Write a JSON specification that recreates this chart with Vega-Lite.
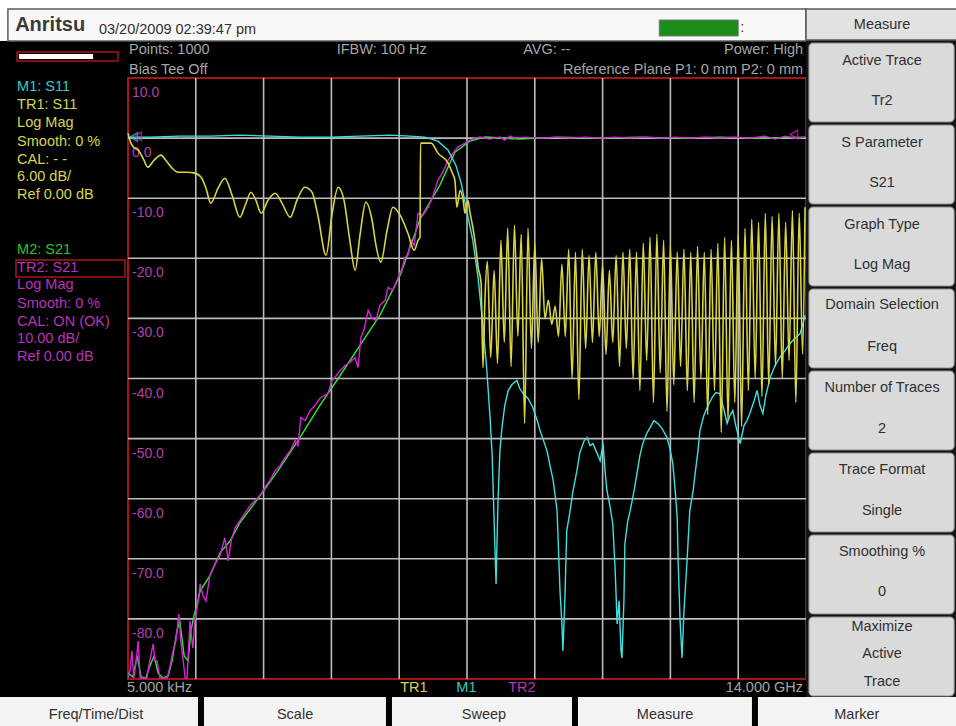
{
"$schema":"https://vega.github.io/schema/vega-lite/v6.json",
"width":678,"height":601,
"autosize":{"type":"none"},
"padding":{"left":128,"top":78,"right":150,"bottom":47},
"background":"#000000",
"config":{"font":"Liberation Sans","view":{"stroke":"#a81414","strokeWidth":2,"fill":"#000000"}},
"datasets":{
"gv":[{"f":1.4},{"f":2.8},{"f":4.2},{"f":5.6},{"f":7.0},{"f":8.4},{"f":9.8},{"f":11.2},{"f":12.6}],
"gh":[{"db":0},{"db":-10},{"db":-20},{"db":-30},{"db":-40},{"db":-50},{"db":-60},{"db":-70},{"db":-80}],
"yl":[{"db":10,"s":"10.0"},{"db":0,"s":"0.0"},{"db":-10,"s":"-10.0"},{"db":-20,"s":"-20.0"},{"db":-30,"s":"-30.0"},{"db":-40,"s":"-40.0"},{"db":-50,"s":"-50.0"},{"db":-60,"s":"-60.0"},{"db":-70,"s":"-70.0"},{"db":-80,"s":"-80.0"}],
"m2":[{"f":0,"db":-89},{"f":0.1,"db":-89.67},{"f":0.19,"db":-86.17},{"f":0.27,"db":-89.67},{"f":0.37,"db":-89.83},{"f":0.45,"db":-87.83},{"f":0.54,"db":-86.17},{"f":0.62,"db":-89},{"f":0.72,"db":-89.83},{"f":0.83,"db":-89.5},{"f":0.91,"db":-87},{"f":1.01,"db":-82},{"f":1.07,"db":-80.33},{"f":1.16,"db":-86.17},{"f":1.24,"db":-87},{"f":1.3,"db":-82},{"f":1.36,"db":-79.5},{"f":1.42,"db":-77.83},{"f":1.49,"db":-75.33},{"f":1.69,"db":-72.83},{"f":1.9,"db":-69},{"f":2.11,"db":-67},{"f":2.31,"db":-64},{"f":2.73,"db":-59.5},{"f":3.14,"db":-54.83},{"f":3.55,"db":-49.83},{"f":3.96,"db":-44.5},{"f":4.38,"db":-39.5},{"f":4.79,"db":-34.5},{"f":5.2,"db":-29.5},{"f":5.62,"db":-22.83},{"f":6.03,"db":-13.5},{"f":6.44,"db":-7.83},{"f":6.75,"db":-2.33},{"f":7.06,"db":-0.5},{"f":7.37,"db":0.17},{"f":8.09,"db":-0.17},{"f":8.92,"db":0.17},{"f":9.75,"db":0},{"f":10.57,"db":0.17},{"f":11.4,"db":0},{"f":12.22,"db":0.17},{"f":13.05,"db":0},{"f":13.98,"db":0.17}],
"tr2":[{"f":0,"db":-89.83},{"f":0.04,"db":-88.67},{"f":0.08,"db":-85.33},{"f":0.12,"db":-89.83},{"f":0.17,"db":-87},{"f":0.21,"db":-83.67},{"f":0.25,"db":-89.83},{"f":0.33,"db":-89.83},{"f":0.39,"db":-89.83},{"f":0.45,"db":-87},{"f":0.52,"db":-84.17},{"f":0.56,"db":-87},{"f":0.6,"db":-87},{"f":0.66,"db":-89.83},{"f":0.74,"db":-89.83},{"f":0.81,"db":-89.83},{"f":0.87,"db":-87.83},{"f":0.93,"db":-85.33},{"f":0.99,"db":-83.67},{"f":1.05,"db":-79.17},{"f":1.09,"db":-83.67},{"f":1.14,"db":-87},{"f":1.18,"db":-89.83},{"f":1.22,"db":-89.83},{"f":1.28,"db":-80.33},{"f":1.32,"db":-83.67},{"f":1.34,"db":-84.83},{"f":1.38,"db":-80.33},{"f":1.45,"db":-77},{"f":1.49,"db":-74.17},{"f":1.55,"db":-76.17},{"f":1.61,"db":-77},{"f":1.69,"db":-72.83},{"f":1.8,"db":-70.83},{"f":1.9,"db":-69.5},{"f":2,"db":-66.5},{"f":2.07,"db":-70.33},{"f":2.13,"db":-67},{"f":2.21,"db":-64.83},{"f":2.31,"db":-63.67},{"f":2.42,"db":-62.33},{"f":2.52,"db":-61.17},{"f":2.62,"db":-60.33},{"f":2.75,"db":-59.17},{"f":2.85,"db":-57.83},{"f":2.93,"db":-57},{"f":3.04,"db":-55.33},{"f":3.14,"db":-54.5},{"f":3.24,"db":-53.17},{"f":3.35,"db":-52},{"f":3.45,"db":-50.33},{"f":3.51,"db":-51.17},{"f":3.57,"db":-46.5},{"f":3.66,"db":-47},{"f":3.76,"db":-45.33},{"f":3.86,"db":-44.5},{"f":3.96,"db":-43.33},{"f":4.05,"db":-42.83},{"f":4.13,"db":-42.5},{"f":4.21,"db":-40.33},{"f":4.27,"db":-39.83},{"f":4.38,"db":-38.67},{"f":4.48,"db":-37.83},{"f":4.58,"db":-37.33},{"f":4.69,"db":-36.5},{"f":4.75,"db":-38.17},{"f":4.81,"db":-33.17},{"f":4.87,"db":-32},{"f":4.96,"db":-28.67},{"f":5.04,"db":-30},{"f":5.12,"db":-30.33},{"f":5.2,"db":-27.83},{"f":5.31,"db":-27},{"f":5.37,"db":-24.83},{"f":5.47,"db":-25.33},{"f":5.58,"db":-23.17},{"f":5.66,"db":-21.67},{"f":5.72,"db":-19.83},{"f":5.78,"db":-19.5},{"f":5.84,"db":-17},{"f":5.91,"db":-17.83},{"f":5.99,"db":-12.5},{"f":6.09,"db":-12.83},{"f":6.2,"db":-11.5},{"f":6.3,"db":-9.5},{"f":6.4,"db":-7},{"f":6.5,"db":-5.67},{"f":6.61,"db":-3.67},{"f":6.71,"db":-2.5},{"f":6.81,"db":-1.5},{"f":6.96,"db":-0.83},{"f":7.06,"db":-0.33},{"f":7.17,"db":0},{"f":7.27,"db":0.17},{"f":7.47,"db":-0.17},{"f":7.68,"db":0.17},{"f":7.78,"db":-0.33},{"f":7.89,"db":0.33},{"f":7.99,"db":0},{"f":8.2,"db":0.17},{"f":8.51,"db":0},{"f":8.82,"db":0.17},{"f":9.13,"db":0},{"f":9.44,"db":0.17},{"f":9.75,"db":0},{"f":10.06,"db":0.17},{"f":10.37,"db":0},{"f":10.68,"db":0.17},{"f":10.99,"db":0},{"f":11.3,"db":0.17},{"f":11.6,"db":0},{"f":11.91,"db":0.17},{"f":12.22,"db":0},{"f":12.53,"db":0.17},{"f":12.84,"db":0},{"f":13.15,"db":0.33},{"f":13.36,"db":-0.17},{"f":13.57,"db":0.33},{"f":13.77,"db":0},{"f":13.98,"db":0.17}],
"m1":[{"f":0,"db":0.17},{"f":0.45,"db":0.17},{"f":1.07,"db":0.33},{"f":1.69,"db":0.33},{"f":2.31,"db":0.5},{"f":2.93,"db":0.33},{"f":3.55,"db":0.17},{"f":4.17,"db":0.17},{"f":4.79,"db":0.33},{"f":5.41,"db":0.5},{"f":5.82,"db":0.33},{"f":6.13,"db":0.17},{"f":6.4,"db":-0.5},{"f":6.61,"db":-2},{"f":6.77,"db":-4.5},{"f":6.88,"db":-7.5},{"f":7,"db":-12.33},{"f":7.12,"db":-17},{"f":7.23,"db":-23.33},{"f":7.33,"db":-31.17},{"f":7.41,"db":-38.67},{"f":7.48,"db":-47},{"f":7.52,"db":-52.83},{"f":7.56,"db":-63.67},{"f":7.6,"db":-74.17},{"f":7.64,"db":-60.33},{"f":7.68,"db":-52},{"f":7.72,"db":-48.33},{"f":7.78,"db":-44.5},{"f":7.85,"db":-42},{"f":7.93,"db":-41},{"f":8.03,"db":-40.33},{"f":8.09,"db":-41.67},{"f":8.16,"db":-42.5},{"f":8.26,"db":-43.33},{"f":8.36,"db":-44.83},{"f":8.45,"db":-47},{"f":8.51,"db":-48.67},{"f":8.65,"db":-52},{"f":8.78,"db":-57},{"f":8.86,"db":-62},{"f":8.92,"db":-75.33},{"f":8.96,"db":-80.83},{"f":8.98,"db":-85.33},{"f":9.02,"db":-77},{"f":9.06,"db":-65.33},{"f":9.13,"db":-62},{"f":9.19,"db":-58.67},{"f":9.27,"db":-55.33},{"f":9.33,"db":-52.33},{"f":9.42,"db":-50.33},{"f":9.48,"db":-49.83},{"f":9.54,"db":-51.17},{"f":9.6,"db":-50.83},{"f":9.68,"db":-52.33},{"f":9.75,"db":-53.67},{"f":9.81,"db":-50.83},{"f":9.85,"db":-55.33},{"f":9.89,"db":-58.67},{"f":9.95,"db":-61.17},{"f":10.01,"db":-64.17},{"f":10.06,"db":-72},{"f":10.1,"db":-80.83},{"f":10.14,"db":-77},{"f":10.18,"db":-85.33},{"f":10.2,"db":-86.5},{"f":10.24,"db":-77},{"f":10.26,"db":-67.5},{"f":10.32,"db":-63.67},{"f":10.37,"db":-62},{"f":10.45,"db":-58.67},{"f":10.51,"db":-55.83},{"f":10.57,"db":-52.83},{"f":10.63,"db":-50.83},{"f":10.72,"db":-49},{"f":10.78,"db":-48.17},{"f":10.86,"db":-47},{"f":10.94,"db":-47.5},{"f":11.03,"db":-48.33},{"f":11.13,"db":-49.83},{"f":11.19,"db":-51.67},{"f":11.25,"db":-54.17},{"f":11.3,"db":-58.67},{"f":11.34,"db":-63.17},{"f":11.36,"db":-70.33},{"f":11.4,"db":-80.33},{"f":11.44,"db":-86.5},{"f":11.48,"db":-78.67},{"f":11.54,"db":-70.83},{"f":11.6,"db":-62},{"f":11.67,"db":-58.67},{"f":11.71,"db":-55.83},{"f":11.77,"db":-52},{"f":11.81,"db":-48.67},{"f":11.89,"db":-46.17},{"f":11.96,"db":-44.83},{"f":12.06,"db":-43.17},{"f":12.14,"db":-42.33},{"f":12.22,"db":-42.5},{"f":12.31,"db":-45.33},{"f":12.37,"db":-47.5},{"f":12.43,"db":-46.17},{"f":12.49,"db":-45.33},{"f":12.55,"db":-47.83},{"f":12.64,"db":-50.83},{"f":12.72,"db":-47.83},{"f":12.78,"db":-47},{"f":12.84,"db":-45.83},{"f":12.93,"db":-43.67},{"f":12.99,"db":-42},{"f":13.05,"db":-44.5},{"f":13.11,"db":-45.83},{"f":13.17,"db":-42.83},{"f":13.26,"db":-39.83},{"f":13.36,"db":-37.83},{"f":13.46,"db":-36.5},{"f":13.57,"db":-35.33},{"f":13.67,"db":-34.17},{"f":13.77,"db":-33.33},{"f":13.88,"db":-32.5},{"f":13.98,"db":-29.5}],
"tr1":[{"f":0,"db":0.83},{"f":0.06,"db":-0.83},{"f":0.14,"db":-1.67},{"f":0.21,"db":-2},{"f":0.31,"db":-3.33},{"f":0.41,"db":-4.83},{"f":0.54,"db":-3.67},{"f":0.68,"db":-2.83},{"f":0.78,"db":-3.67},{"f":0.91,"db":-5},{"f":1.03,"db":-5.67},{"f":1.22,"db":-5.67},{"f":1.38,"db":-5.83},{"f":1.51,"db":-6.5},{"f":1.61,"db":-8.33},{"f":1.71,"db":-10.83},{"f":1.86,"db":-8.33},{"f":2,"db":-6.67},{"f":2.15,"db":-9.5},{"f":2.31,"db":-13.17},{"f":2.42,"db":-11.17},{"f":2.54,"db":-9},{"f":2.64,"db":-10.33},{"f":2.75,"db":-12.5},{"f":2.89,"db":-10.33},{"f":3.04,"db":-9.17},{"f":3.18,"db":-10.83},{"f":3.35,"db":-13.17},{"f":3.49,"db":-10.33},{"f":3.65,"db":-8.17},{"f":3.8,"db":-9},{"f":3.92,"db":-12.83},{"f":4.09,"db":-19.5},{"f":4.21,"db":-12.83},{"f":4.34,"db":-8.17},{"f":4.46,"db":-10.33},{"f":4.58,"db":-17},{"f":4.69,"db":-22},{"f":4.79,"db":-16.17},{"f":4.91,"db":-10.67},{"f":5.04,"db":-13.67},{"f":5.12,"db":-17.83},{"f":5.22,"db":-20.67},{"f":5.35,"db":-15.33},{"f":5.47,"db":-11.5},{"f":5.62,"db":-12.83},{"f":5.78,"db":-15.83},{"f":5.91,"db":-18.67},{"f":5.99,"db":-17},{"f":6.03,"db":-16.5},{"f":6.04,"db":-0.83},{"f":6.26,"db":-0.83},{"f":6.4,"db":-2.5},{"f":6.61,"db":-4.17},{"f":6.69,"db":-5.67},{"f":6.75,"db":-7},{"f":6.79,"db":-11.5},{"f":6.86,"db":-8.67},{"f":6.92,"db":-10.33},{"f":6.96,"db":-12.5},{"f":7.02,"db":-10.33},{"f":7.06,"db":-12.33},{"f":7.12,"db":-14.83},{"f":7.19,"db":-18.67},{"f":7.23,"db":-21.5},{"f":7.29,"db":-24},{"f":7.33,"db":-38.17},{"f":7.37,"db":-27},{"f":7.42,"db":-20.5},{"f":7.49,"db":-36.5},{"f":7.56,"db":-22},{"f":7.63,"db":-37.5},{"f":7.7,"db":-17},{"f":7.77,"db":-34},{"f":7.84,"db":-15},{"f":7.91,"db":-38},{"f":7.98,"db":-14.5},{"f":8.05,"db":-33},{"f":8.12,"db":-16},{"f":8.19,"db":-47.5},{"f":8.26,"db":-15},{"f":8.33,"db":-35},{"f":8.4,"db":-17.5},{"f":8.47,"db":-34},{"f":8.54,"db":-20},{"f":8.61,"db":-30},{"f":8.68,"db":-27},{"f":8.75,"db":-31},{"f":8.82,"db":-28},{"f":8.89,"db":-33},{"f":8.96,"db":-21},{"f":9.03,"db":-33},{"f":9.1,"db":-18.5},{"f":9.17,"db":-40},{"f":9.24,"db":-19},{"f":9.31,"db":-43.5},{"f":9.38,"db":-18.5},{"f":9.45,"db":-35},{"f":9.52,"db":-19.5},{"f":9.59,"db":-34},{"f":9.66,"db":-19},{"f":9.73,"db":-33},{"f":9.8,"db":-21},{"f":9.87,"db":-36},{"f":9.94,"db":-22},{"f":10.01,"db":-34},{"f":10.08,"db":-19.5},{"f":10.15,"db":-38},{"f":10.22,"db":-19},{"f":10.29,"db":-35},{"f":10.36,"db":-18.5},{"f":10.43,"db":-40},{"f":10.5,"db":-19},{"f":10.57,"db":-42},{"f":10.64,"db":-17.5},{"f":10.71,"db":-37},{"f":10.78,"db":-16.5},{"f":10.85,"db":-44},{"f":10.92,"db":-16},{"f":10.99,"db":-39},{"f":11.06,"db":-17},{"f":11.13,"db":-45.5},{"f":11.2,"db":-18},{"f":11.27,"db":-41},{"f":11.34,"db":-19},{"f":11.41,"db":-38},{"f":11.48,"db":-18.5},{"f":11.55,"db":-42},{"f":11.62,"db":-19},{"f":11.69,"db":-44},{"f":11.76,"db":-18},{"f":11.83,"db":-40},{"f":11.9,"db":-19},{"f":11.97,"db":-46},{"f":12.04,"db":-18.5},{"f":12.11,"db":-42},{"f":12.18,"db":-17.5},{"f":12.25,"db":-49},{"f":12.32,"db":-16.5},{"f":12.39,"db":-47},{"f":12.46,"db":-17},{"f":12.53,"db":-44},{"f":12.6,"db":-16},{"f":12.67,"db":-48},{"f":12.74,"db":-15},{"f":12.81,"db":-42},{"f":12.88,"db":-13.5},{"f":12.95,"db":-40},{"f":13.02,"db":-14},{"f":13.09,"db":-43},{"f":13.16,"db":-12.5},{"f":13.23,"db":-41},{"f":13.3,"db":-13},{"f":13.37,"db":-38},{"f":13.44,"db":-12.5},{"f":13.51,"db":-40},{"f":13.58,"db":-14},{"f":13.65,"db":-37},{"f":13.72,"db":-12},{"f":13.79,"db":-44},{"f":13.86,"db":-12.5},{"f":13.93,"db":-36},{"f":13.98,"db":-11.5}],
"mk":[{"f":0.12,"db":0.2,"g":"M1"},{"f":0.2,"db":0.3,"g":"TR2"},{"f":13.75,"db":0.6,"g":"TR2"}],
"wbg":[{"x":-2.7,"x2":17.2,"y":23.5,"y2":16.16}],
"hdr":[{"x":-2.48,"x2":14.0,"y":21.48,"y2":16.16}],
"rp":[{"x":14.0,"x2":17.2,"y":16.32,"y2":-93.0}],
"mh":[{"x":14.0,"x2":17.2,"y":21.48,"y2":16.32}],
"btn":[{"x":14.06,"x2":17.06,"y":15.82,"y2":2.68},{"x":14.06,"x2":17.06,"y":2.18,"y2":-10.97},{"x":14.06,"x2":17.06,"y":-11.46,"y2":-24.61},{"x":14.06,"x2":17.06,"y":-25.11,"y2":-38.25},{"x":14.06,"x2":17.06,"y":-38.75,"y2":-51.9},{"x":14.06,"x2":17.06,"y":-52.4,"y2":-65.54},{"x":14.06,"x2":17.06,"y":-66.04,"y2":-79.18},{"x":14.06,"x2":17.06,"y":-79.68,"y2":-92.83}],
"bb":[{"x":-2.7,"x2":1.445,"y":-93.0,"y2":-98.2},{"x":1.569,"x2":5.327,"y":-93.0,"y2":-98.2},{"x":5.451,"x2":9.168,"y":-93.0,"y2":-98.2},{"x":9.292,"x2":12.884,"y":-93.0,"y2":-98.2},{"x":13.008,"x2":17.2,"y":-93.0,"y2":-98.2}],
"batt":[{"x":10.97,"x2":12.6,"y":19.65,"y2":16.99}],
"ind":[{"x":-2.292,"x2":-0.206,"y":14.33,"y2":12.83}],
"indw":[{"x":-2.25,"x2":-0.72,"y":13.99,"y2":13.16}],
"box":[{"x":-2.313,"x2":-0.062,"y":-20.28,"y2":-23.11}],
"logo":[{"x":-2.33,"y":18.8,"s":"Anritsu"}],
"tl":[{"x":-0.6,"y":18.0,"s":"03/20/2009 02:39:47 pm","g":"dark"},{"x":12.64,"y":18.3,"s":":","g":"dark"},{"x":0.02,"y":14.66,"s":"Points: 1000","g":"info"},{"x":0.02,"y":11.33,"s":"Bias Tee Off","g":"info"},{"x":4.31,"y":14.66,"s":"IFBW: 100 Hz","g":"info"},{"x":8.16,"y":14.66,"s":"AVG: --","g":"info"},{"x":-0.02,"y":-91.5,"s":"5.000 kHz","g":"info"},{"x":-2.29,"y":8.5,"s":"M1: S11","g":"M1"},{"x":-2.29,"y":5.51,"s":"TR1: S11","g":"TR1"},{"x":-2.29,"y":2.51,"s":"Log Mag","g":"TR1"},{"x":-2.29,"y":-0.65,"s":"Smooth: 0 %","g":"TR1"},{"x":-2.29,"y":-3.64,"s":"CAL: - -","g":"TR1"},{"x":-2.29,"y":-6.47,"s":"6.00 dB/","g":"TR1"},{"x":-2.29,"y":-9.47,"s":"Ref 0.00 dB","g":"TR1"},{"x":-2.29,"y":-18.62,"s":"M2: S21","g":"M2"},{"x":-2.29,"y":-21.61,"s":"TR2: S21","g":"TR2"},{"x":-2.29,"y":-24.44,"s":"Log Mag","g":"TR2"},{"x":-2.29,"y":-27.6,"s":"Smooth: 0 %","g":"TR2"},{"x":-2.29,"y":-30.6,"s":"CAL: ON (OK)","g":"TR2"},{"x":-2.29,"y":-33.43,"s":"10.00 dB/","g":"TR2"},{"x":-2.29,"y":-36.42,"s":"Ref 0.00 dB","g":"TR2"},{"x":5.62,"y":-91.5,"s":"TR1","g":"TR1"},{"x":6.78,"y":-91.5,"s":"M1","g":"M1"},{"x":7.85,"y":-91.5,"s":"TR2","g":"TR2"}],
"tr":[{"x":13.94,"y":14.66,"s":"Power: High"},{"x":13.94,"y":11.33,"s":"Reference Plane P1: 0 mm P2: 0 mm"},{"x":13.94,"y":-91.5,"s":"14.000 GHz"}],
"tc":[{"x":15.57,"y":18.8,"s":"Measure"},{"x":15.57,"y":12.8,"s":"Active Trace"},{"x":15.57,"y":6.1,"s":"Tr2"},{"x":15.57,"y":-0.75,"s":"S Parameter"},{"x":15.57,"y":-7.47,"s":"S21"},{"x":15.57,"y":-14.4,"s":"Graph Type"},{"x":15.57,"y":-21.1,"s":"Log Mag"},{"x":15.57,"y":-27.85,"s":"Domain Selection"},{"x":15.57,"y":-34.76,"s":"Freq"},{"x":15.57,"y":-41.5,"s":"Number of Traces"},{"x":15.57,"y":-48.4,"s":"2"},{"x":15.57,"y":-55.2,"s":"Trace Format"},{"x":15.57,"y":-62.1,"s":"Single"},{"x":15.57,"y":-68.85,"s":"Smoothing %"},{"x":15.57,"y":-75.5,"s":"0"},{"x":15.57,"y":-81.35,"s":"Maximize"},{"x":15.57,"y":-85.8,"s":"Active"},{"x":15.57,"y":-90.5,"s":"Trace"},{"x":-0.66,"y":-96.0,"s":"Freq/Time/Dist"},{"x":3.45,"y":-96.0,"s":"Scale"},{"x":7.35,"y":-96.0,"s":"Sweep"},{"x":11.09,"y":-96.0,"s":"Measure"},{"x":15.05,"y":-96.0,"s":"Marker"}]
},
"layer":[
{"data":{"name":"wbg"},"mark":{"type":"rect","fill":"#ffffff"},"encoding":{"x":{"field":"x","type":"quantitative","scale":{"domain":[0,14],"nice":false,"zero":false},"axis":null},"x2":{"field":"x2"},"y":{"field":"y","type":"quantitative","scale":{"domain":[-90,10],"nice":false,"zero":false},"axis":null},"y2":{"field":"y2"}}},
{"data":{"name":"hdr"},"mark":{"type":"rect","fill":"#f8f8f8","stroke":"#5a5a5a","strokeWidth":1.5},"encoding":{"x":{"field":"x","type":"quantitative","scale":{"domain":[0,14],"nice":false,"zero":false},"axis":null},"x2":{"field":"x2"},"y":{"field":"y","type":"quantitative","scale":{"domain":[-90,10],"nice":false,"zero":false},"axis":null},"y2":{"field":"y2"}}},
{"data":{"name":"rp"},"mark":{"type":"rect","fill":"#141414"},"encoding":{"x":{"field":"x","type":"quantitative","scale":{"domain":[0,14],"nice":false,"zero":false},"axis":null},"x2":{"field":"x2"},"y":{"field":"y","type":"quantitative","scale":{"domain":[-90,10],"nice":false,"zero":false},"axis":null},"y2":{"field":"y2"}}},
{"data":{"name":"mh"},"mark":{"type":"rect","fill":"#e2e2e2","stroke":"#5a5a5a","strokeWidth":1.5},"encoding":{"x":{"field":"x","type":"quantitative","scale":{"domain":[0,14],"nice":false,"zero":false},"axis":null},"x2":{"field":"x2"},"y":{"field":"y","type":"quantitative","scale":{"domain":[-90,10],"nice":false,"zero":false},"axis":null},"y2":{"field":"y2"}}},
{"data":{"name":"btn"},"mark":{"type":"rect","fill":"#dadada","stroke":"#8a8a8a","strokeWidth":1,"cornerRadius":4},"encoding":{"x":{"field":"x","type":"quantitative","scale":{"domain":[0,14],"nice":false,"zero":false},"axis":null},"x2":{"field":"x2"},"y":{"field":"y","type":"quantitative","scale":{"domain":[-90,10],"nice":false,"zero":false},"axis":null},"y2":{"field":"y2"}}},
{"data":{"name":"bb"},"mark":{"type":"rect","fill":"#f3f3f3"},"encoding":{"x":{"field":"x","type":"quantitative","scale":{"domain":[0,14],"nice":false,"zero":false},"axis":null},"x2":{"field":"x2"},"y":{"field":"y","type":"quantitative","scale":{"domain":[-90,10],"nice":false,"zero":false},"axis":null},"y2":{"field":"y2"}}},
{"data":{"name":"batt"},"mark":{"type":"rect","fill":"#1c8c1c","stroke":"#777777","strokeWidth":1},"encoding":{"x":{"field":"x","type":"quantitative","scale":{"domain":[0,14],"nice":false,"zero":false},"axis":null},"x2":{"field":"x2"},"y":{"field":"y","type":"quantitative","scale":{"domain":[-90,10],"nice":false,"zero":false},"axis":null},"y2":{"field":"y2"}}},
{"data":{"name":"ind"},"mark":{"type":"rect","fill":"#000000","stroke":"#b01414","strokeWidth":1.5},"encoding":{"x":{"field":"x","type":"quantitative","scale":{"domain":[0,14],"nice":false,"zero":false},"axis":null},"x2":{"field":"x2"},"y":{"field":"y","type":"quantitative","scale":{"domain":[-90,10],"nice":false,"zero":false},"axis":null},"y2":{"field":"y2"}}},
{"data":{"name":"indw"},"mark":{"type":"rect","fill":"#ffffff"},"encoding":{"x":{"field":"x","type":"quantitative","scale":{"domain":[0,14],"nice":false,"zero":false},"axis":null},"x2":{"field":"x2"},"y":{"field":"y","type":"quantitative","scale":{"domain":[-90,10],"nice":false,"zero":false},"axis":null},"y2":{"field":"y2"}}},
{"data":{"name":"box"},"mark":{"type":"rect","fill":null,"stroke":"#b01414","strokeWidth":1.5},"encoding":{"x":{"field":"x","type":"quantitative","scale":{"domain":[0,14],"nice":false,"zero":false},"axis":null},"x2":{"field":"x2"},"y":{"field":"y","type":"quantitative","scale":{"domain":[-90,10],"nice":false,"zero":false},"axis":null},"y2":{"field":"y2"}}},
{"data":{"name":"gv"},"mark":{"type":"rule","color":"#bcbcbc","strokeWidth":1.6},"encoding":{"x":{"field":"f","type":"quantitative","scale":{"domain":[0,14],"nice":false,"zero":false},"axis":null}}},
{"data":{"name":"gh"},"mark":{"type":"rule","color":"#bcbcbc","strokeWidth":1.6},"encoding":{"y":{"field":"db","type":"quantitative","scale":{"domain":[-90,10],"nice":false,"zero":false},"axis":null}}},
{"data":{"name":"yl"},"mark":{"type":"text","align":"left","baseline":"middle","fontSize":14,"dx":4,"dy":15,"color":"#b040b0"},"encoding":{"x":{"datum":0,"type":"quantitative","scale":{"domain":[0,14],"nice":false,"zero":false},"axis":null},"y":{"field":"db","type":"quantitative","scale":{"domain":[-90,10],"nice":false,"zero":false},"axis":null},"text":{"field":"s"}}},
{"data":{"name":"m2"},"mark":{"type":"line","color":"#30e830","strokeWidth":1.4},"encoding":{"x":{"field":"f","type":"quantitative","scale":{"domain":[0,14],"nice":false,"zero":false},"axis":null},"y":{"field":"db","type":"quantitative","scale":{"domain":[-90,10],"nice":false,"zero":false},"axis":null}}},
{"data":{"name":"tr2"},"mark":{"type":"line","color":"#d424d4","strokeWidth":1.4},"encoding":{"x":{"field":"f","type":"quantitative","scale":{"domain":[0,14],"nice":false,"zero":false},"axis":null},"y":{"field":"db","type":"quantitative","scale":{"domain":[-90,10],"nice":false,"zero":false},"axis":null}}},
{"data":{"name":"m1"},"mark":{"type":"line","color":"#3ee0e0","strokeWidth":1.4},"encoding":{"x":{"field":"f","type":"quantitative","scale":{"domain":[0,14],"nice":false,"zero":false},"axis":null},"y":{"field":"db","type":"quantitative","scale":{"domain":[-90,10],"nice":false,"zero":false},"axis":null}}},
{"data":{"name":"tr1"},"mark":{"type":"line","color":"#d8d444","strokeWidth":1.6,"interpolate":"monotone"},"encoding":{"x":{"field":"f","type":"quantitative","scale":{"domain":[0,14],"nice":false,"zero":false},"axis":null},"y":{"field":"db","type":"quantitative","scale":{"domain":[-90,10],"nice":false,"zero":false},"axis":null}}},
{"data":{"name":"mk"},"mark":{"type":"point","shape":"triangle-left","size":70,"filled":false,"strokeWidth":1.5},"encoding":{"x":{"field":"f","type":"quantitative","scale":{"domain":[0,14],"nice":false,"zero":false},"axis":null},"y":{"field":"db","type":"quantitative","scale":{"domain":[-90,10],"nice":false,"zero":false},"axis":null},"color":{"field":"g","type":"nominal","scale":{"domain":["M1","TR1","M2","TR2","info","dark"],"range":["#3cc8c8","#d6d64a","#30c030","#b834b8","#a4a4a4","#303030"]},"legend":null}}},
{"data":{"name":"logo"},"mark":{"type":"text","align":"left","baseline":"middle","fontSize":20,"fontWeight":"bold","color":"#3a3a3a"},"encoding":{"x":{"field":"x","type":"quantitative","scale":{"domain":[0,14],"nice":false,"zero":false},"axis":null},"y":{"field":"y","type":"quantitative","scale":{"domain":[-90,10],"nice":false,"zero":false},"axis":null},"text":{"field":"s"}}},
{"data":{"name":"tl"},"mark":{"type":"text","align":"left","baseline":"middle","fontSize":14.5},"encoding":{"x":{"field":"x","type":"quantitative","scale":{"domain":[0,14],"nice":false,"zero":false},"axis":null},"y":{"field":"y","type":"quantitative","scale":{"domain":[-90,10],"nice":false,"zero":false},"axis":null},"text":{"field":"s"},"color":{"field":"g","type":"nominal","scale":{"domain":["M1","TR1","M2","TR2","info","dark"],"range":["#3cc8c8","#d6d64a","#30c030","#b834b8","#a4a4a4","#303030"]},"legend":null}}},
{"data":{"name":"tr"},"mark":{"type":"text","align":"right","baseline":"middle","fontSize":14.5,"color":"#a4a4a4"},"encoding":{"x":{"field":"x","type":"quantitative","scale":{"domain":[0,14],"nice":false,"zero":false},"axis":null},"y":{"field":"y","type":"quantitative","scale":{"domain":[-90,10],"nice":false,"zero":false},"axis":null},"text":{"field":"s"}}},
{"data":{"name":"tc"},"mark":{"type":"text","align":"center","baseline":"middle","fontSize":14.5,"color":"#303030"},"encoding":{"x":{"field":"x","type":"quantitative","scale":{"domain":[0,14],"nice":false,"zero":false},"axis":null},"y":{"field":"y","type":"quantitative","scale":{"domain":[-90,10],"nice":false,"zero":false},"axis":null},"text":{"field":"s"}}}
]
}
